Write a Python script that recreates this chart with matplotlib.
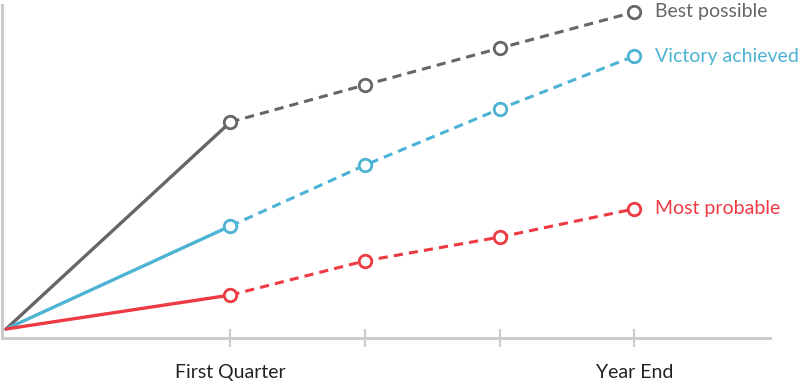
import matplotlib
matplotlib.use("Agg")
import matplotlib.pyplot as plt

x_pos = [0, 5, 8, 11, 14]
tick_labels = ["First Quarter", "", "", "Year End"]
series_names = ["Best possible", "Victory achieved", "Most probable"]
best = [0, 65.3, 77.0, 88.6, 100.0]
victory = [0, 32.5, 51.7, 69.4, 86.1]
probable = [0, 10.7, 21.5, 29.0, 37.9]
colors = ["#666666", "#4cb3d4", "#ee3a43"]

plt.rcParams['font.family'] = ['Lato', 'DejaVu Sans']

fig = plt.figure(figsize=(8.01, 3.85), dpi=100)
ax = fig.add_axes([2/801, 1 - 338/385, (770-2)/801, (338-5)/385])

for vals, c, name in zip([best, victory, probable], colors, series_names):
    ax.plot(x_pos[:2], vals[:2], color=c, lw=2.4, solid_capstyle='round', zorder=3)
    ax.plot(x_pos[1:], vals[1:], color=c, lw=2.2, ls=(0, (3, 2)), zorder=3)
    ax.plot(x_pos[1:], vals[1:], ls='none', marker='o', ms=9, mfc='white',
            mec=c, mew=2.0, zorder=4)
    ax.annotate(name, (x_pos[-1], vals[-1]), xytext=(14.5, 0), textcoords='offset points',
                color=c, fontsize=14, va='center', ha='left', annotation_clip=False)

ax.set_xlim(-0.09, 17.02)
ax.set_ylim(-2.84, 102.2)
ax.set_xticks(x_pos[1:])
ax.set_xticklabels(tick_labels, fontsize=14, color='#222222')
ax.set_yticks([])
for s in ['top', 'right']:
    ax.spines[s].set_visible(False)
for s in ['left', 'bottom']:
    ax.spines[s].set_color('#cccccc')
    ax.spines[s].set_linewidth(2.2)
ax.tick_params(axis='x', direction='inout', length=13, width=1.6, color='#cccccc', pad=12)

fig.savefig("out.png", dpi=100)
